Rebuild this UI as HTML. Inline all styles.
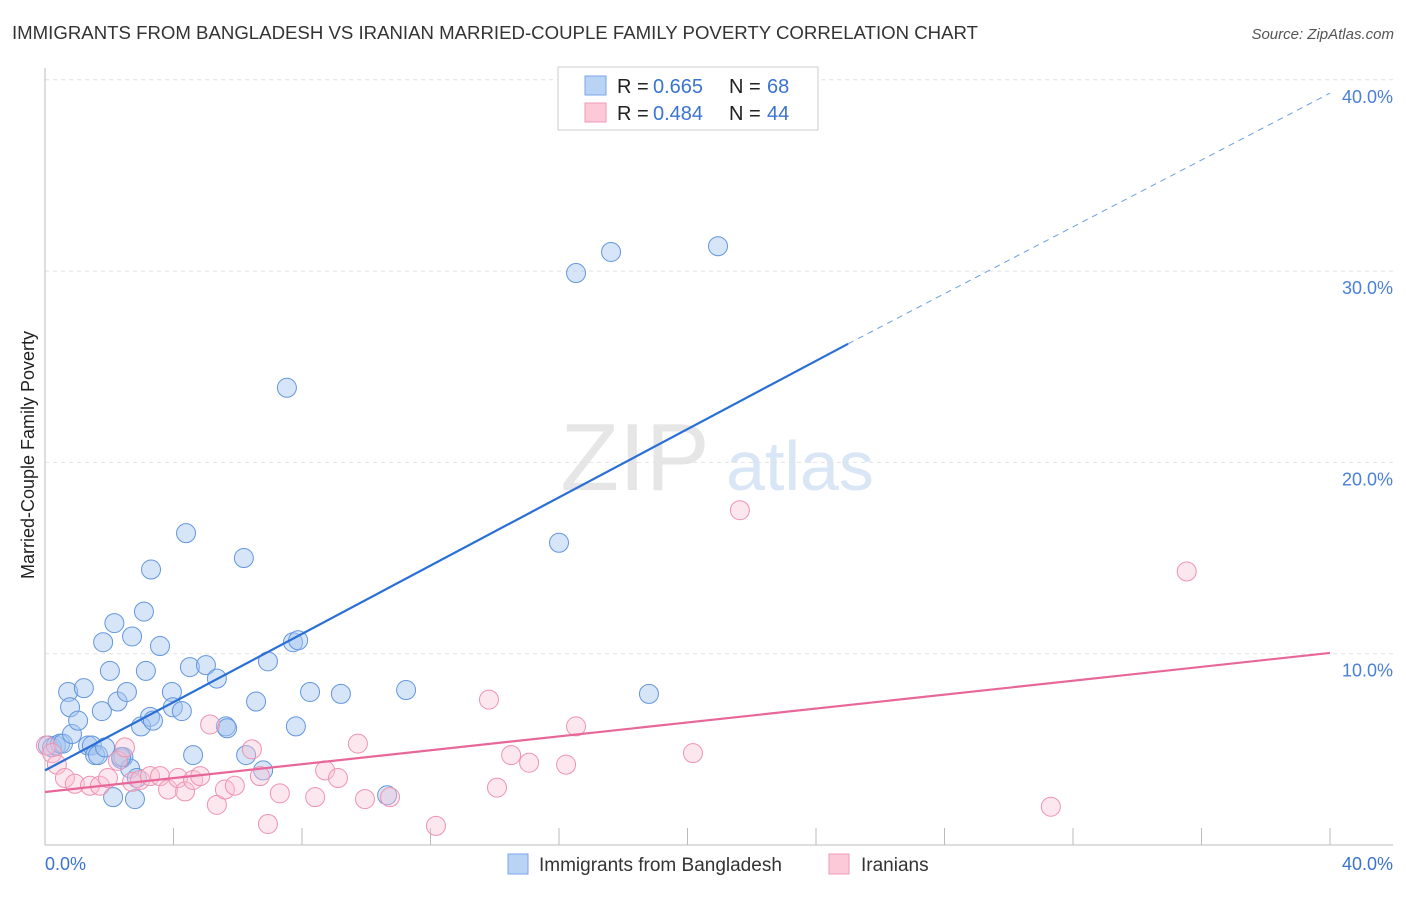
<!DOCTYPE html>
<html><head><meta charset="utf-8"><style>
body{margin:0;background:#fff;font-family:"Liberation Sans",sans-serif;}
svg text{font-family:"Liberation Sans",sans-serif;}
</style></head><body>
<svg width="1406" height="892" viewBox="0 0 1406 892" xmlns="http://www.w3.org/2000/svg">
<text x="12" y="39" font-size="18" fill="#333" textLength="966" lengthAdjust="spacingAndGlyphs">IMMIGRANTS FROM BANGLADESH VS IRANIAN MARRIED-COUPLE FAMILY POVERTY CORRELATION CHART</text>
<text x="1394" y="39" font-size="15" fill="#555" font-style="italic" text-anchor="end">Source: ZipAtlas.com</text>
<text x="635" y="490" font-size="96" fill="#e6e6e6" font-family="Liberation Serif" text-anchor="middle">ZIP</text>
<text x="800" y="490" font-size="70" fill="#d9e6f5" text-anchor="middle">atlas</text>
<g id="grid"></g>
<line x1="45" y1="68" x2="45" y2="845" stroke="#bbb"/>
<line x1="45" y1="845" x2="1393" y2="845" stroke="#bbb"/>
<g id="ticks"></g>
<text x="34" y="455" font-size="18" fill="#222" text-anchor="middle" transform="rotate(-90 34 455)">Married-Couple Family Poverty</text>
<text x="45" y="870" font-size="18" fill="#3a74d0">0.0%</text>
<text x="1393" y="870" font-size="18" fill="#3a74d0" text-anchor="end">40.0%</text>
<g id="pts"></g>
<g id="lines"></g>
<g>
<rect x="558" y="67" width="260" height="63" fill="#fff" stroke="#ccc"/>
<rect x="585" y="76" width="21" height="19" fill="#b9d3f5" stroke="#7aa6e6"/>
<rect x="585" y="103" width="21" height="19" fill="#fbc9d8" stroke="#f09ab5"/>
<text x="617" y="93" font-size="20" fill="#222">R = </text><text x="653" y="93" font-size="20" fill="#3a74d0">0.665</text>
<text x="729" y="93" font-size="20" fill="#222">N = </text><text x="767" y="93" font-size="20" fill="#3a74d0">68</text>
<text x="617" y="120" font-size="20" fill="#222">R = </text><text x="653" y="120" font-size="20" fill="#3a74d0">0.484</text>
<text x="729" y="120" font-size="20" fill="#222">N = </text><text x="767" y="120" font-size="20" fill="#3a74d0">44</text>
</g>
<g>
<rect x="508" y="854" width="20" height="20" fill="#b9d3f5" stroke="#7aa6e6"/>
<text x="539" y="871" font-size="19" fill="#333">Immigrants from Bangladesh</text>
<rect x="829" y="854" width="20" height="20" fill="#fbc9d8" stroke="#f09ab5"/>
<text x="861" y="871" font-size="19" fill="#333">Iranians</text>
</g>
</svg>
<script>
const yTicks=[10,20,30,40];
const xTicks=[0,4,8,12,16,20,24,28,32,36,40];
const blueX=[0.09,0.22,0.34,0.47,0.56,0.72,0.78,0.84,1.03,1.21,1.34,1.46,1.56,1.65,1.77,1.81,1.87,2.02,2.12,2.16,2.26,2.37,2.44,2.55,2.65,2.71,2.86,2.99,3.08,3.14,3.27,3.30,3.36,3.58,3.95,3.98,4.26,4.39,4.51,4.61,5.01,5.35,5.63,5.67,6.19,6.26,6.57,6.79,6.94,7.53,7.72,7.81,7.88,8.25,9.21,10.65,11.24,16.00,16.53,17.62,18.80,20.95,2.80,2.37];
const blueY=[5.2,5.1,5.2,5.3,5.3,8.0,7.2,5.8,6.5,8.2,5.2,5.2,4.7,4.7,7.0,10.6,5.1,9.1,2.5,11.6,7.5,4.5,4.6,8.0,4.0,10.9,3.5,6.2,12.2,9.1,6.7,14.4,6.5,10.4,8.0,7.2,7.0,16.3,9.3,4.7,9.4,8.7,6.2,6.1,15.0,4.7,7.5,3.9,9.6,23.9,10.6,6.2,10.7,8.0,7.9,2.6,8.1,15.8,29.9,31.0,7.9,31.3,2.4,4.6];
const pinkX=[0.03,0.22,0.37,0.62,0.93,1.40,1.71,1.96,2.27,2.49,2.71,2.96,3.27,3.58,3.83,4.14,4.36,4.61,4.83,5.14,5.35,5.60,5.91,6.44,6.69,6.94,7.31,8.41,8.72,9.12,9.74,9.96,10.74,12.17,13.82,14.07,14.51,15.07,16.22,16.53,20.17,21.63,31.31,35.54];
const pinkY=[5.2,4.8,4.2,3.5,3.2,3.1,3.1,3.5,4.4,5.1,3.3,3.4,3.6,3.6,2.9,3.5,2.8,3.4,3.6,6.3,2.1,2.9,3.1,5.0,3.6,1.1,2.7,2.5,3.9,3.5,5.3,2.4,2.5,1.0,7.6,3.0,4.7,4.3,4.2,6.2,4.8,17.5,2.0,14.3];
const blueLine=[0,3.9,25.0,26.2,40,39.3];
const pinkLine=[0,2.77,40,10.04];
const X0=45,X1=1330,Y0=845,PY=19.13;
const sx=v=>X0+(X1-X0)*v/40, sy=v=>Y0-v*PY;
const NS='http://www.w3.org/2000/svg';
function mk(tag,a,parent){const e=document.createElementNS(NS,tag);for(const k in a)e.setAttribute(k,a[k]);document.getElementById(parent).appendChild(e);return e;}
yTicks.forEach(t=>{
 const l=mk('line',{x1:45,x2:1393,y1:sy(t),y2:sy(t),stroke:'#e2e2e2','stroke-dasharray':'4,4'},'grid');
 
 
 const tx=mk('text',{x:1393,y:sy(t)+23,'font-size':18,fill:'#4a80d8','text-anchor':'end'},'grid');
 tx.textContent=t.toFixed(1)+'%';
 
 
});
xTicks.forEach(t=>{
 const l=mk('line',{x1:sx(t),x2:sx(t),y1:828,y2:845,stroke:'#bbb'},'ticks');
 
 
});
blueX.forEach((v,i)=>{
 const c=mk('circle',{cx:sx(v),cy:sy(blueY[i]),r:9.5,fill:'rgba(165,198,240,0.45)',stroke:'#6496de','stroke-width':1},'pts');
 
 
});
pinkX.forEach((v,i)=>{
 const c=mk('circle',{cx:sx(v),cy:sy(pinkY[i]),r:9.5,fill:'rgba(250,195,212,0.4)',stroke:'#ef93b0','stroke-width':1},'pts');
 
 
});
let b=mk('line',{x1:sx(blueLine[0]),y1:sy(blueLine[1]),x2:sx(blueLine[2]),y2:sy(blueLine[3]),stroke:'#2a6fd6','stroke-width':2.2},'lines');


let bd=mk('line',{x1:sx(blueLine[2]),y1:sy(blueLine[3]),x2:sx(blueLine[4]),y2:sy(blueLine[5]),stroke:'#6a9ee0','stroke-width':1,'stroke-dasharray':'6,5'},'lines');


let p=mk('line',{x1:sx(pinkLine[0]),y1:sy(pinkLine[1]),x2:sx(pinkLine[2]),y2:sy(pinkLine[3]),stroke:'#e8679a','stroke-width':2.2},'lines');


</script>
</body></html>
